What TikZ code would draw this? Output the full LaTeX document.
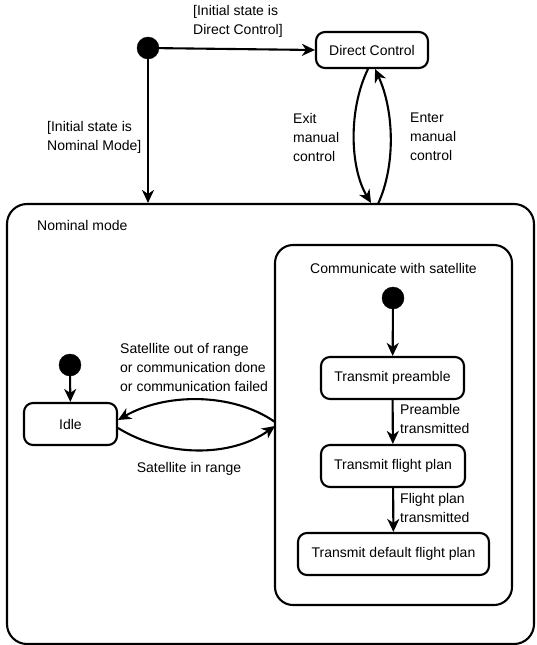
\documentclass[tikz,border=0pt]{standalone}
\usepackage{fontspec}
\setmainfont{Liberation Sans}
\usetikzlibrary{arrows.meta}
\begin{document}
\begin{tikzpicture}[x=1pt,y=-1pt,
  every node/.style={font=\fontsize{14}{19}\selectfont},
  dot/.style={circle,fill=black,draw=black,minimum size=22pt,inner sep=0pt},
  statebox/.style={draw,line width=2.1pt,rounded corners=9pt,inner sep=0pt},
  region/.style={draw,line width=2.1pt,rounded corners=20pt,inner sep=0pt},
  lbl/.style={inner sep=0pt,align=left,anchor=west},
  conn/.style={line width=2.1pt,-{Stealth[length=13pt,width=12pt,inset=4pt]}}]
\useasboundingbox (0,0) rectangle (536,645);
% regions
\node[region,minimum width=527pt,minimum height=440pt] (nom) at (270.5,424) {};
\node[lbl] (nomlbl) at (37,225) {Nominal mode};
\node[region,rounded corners=18pt,minimum width=237pt,minimum height=360pt] (comm) at (393.5,425) {};
\node[inner sep=0pt] (commlbl) at (393.5,268) {Communicate with satellite};
% states
\node[dot] (init) at (148,48) {};
\node[statebox,minimum width=112pt,minimum height=36pt] (dc) at (372,50) {Direct Control};
\node[dot] (cdot) at (393,298) {};
\node[statebox,minimum width=143pt,minimum height=42pt] (tp) at (392.5,378) {Transmit preamble};
\node[statebox,minimum width=144pt,minimum height=42pt] (tfp) at (393,466) {Transmit flight plan};
\node[statebox,minimum width=191pt,minimum height=42pt] (tdfp) at (393.5,554) {Transmit default flight plan};
\node[dot] (idot) at (70,365) {};
\node[statebox,minimum width=93pt,minimum height=42pt] (idle) at (70.5,424) {Idle};
% coordinates
\coordinate (dcl) at (368,69);
\coordinate (dcr) at (375,69);
\coordinate (noml) at (371,203);
\coordinate (nomr) at (378,204);
\coordinate (commu) at (275,422);
\coordinate (comml) at (275,426);
\coordinate (idleu) at (118,420);
\coordinate (idlel) at (118,428);
% connectors
\draw[conn] (init) -- (dc.west);
\draw[conn] (init) -- (init |- nom.north);
\draw[conn] (dcl) .. controls (348,110) and (350,168) .. (noml);
\draw[conn] (nomr) .. controls (396,165) and (394,110) .. (dcr);
\draw[conn] (cdot) -- (tp);
\draw[conn] (tp) -- (tfp);
\draw[conn] (tfp) -- (tdfp);
\draw[conn] (idot) -- (idle);
\draw[conn] (commu) .. controls (232,392) and (165,393) .. (idleu);
\draw[conn] (idlel) .. controls (165,457) and (230,458) .. (comml);
% labels
\node[lbl] (l1) at (193,21.5) {[Initial state is\\Direct Control]};
\node[lbl] (l2) at (47,137) {[Initial state is\\Nominal Mode]};
\node[lbl] (l3) at (293,137) {Exit\\manual\\control};
\node[lbl] (l4) at (410,137) {Enter\\manual\\control};
\node[lbl] (l5) at (120,367) {Satellite out of range\\or communication done\\or communication failed};
\node[inner sep=0pt] (l6) at (189,469) {Satellite in range};
\node[lbl] (l7) at (400,419) {Preamble\\transmitted};
\node[lbl] (l8) at (400,508) {Flight plan\\transmitted};
\end{tikzpicture}
\end{document}
